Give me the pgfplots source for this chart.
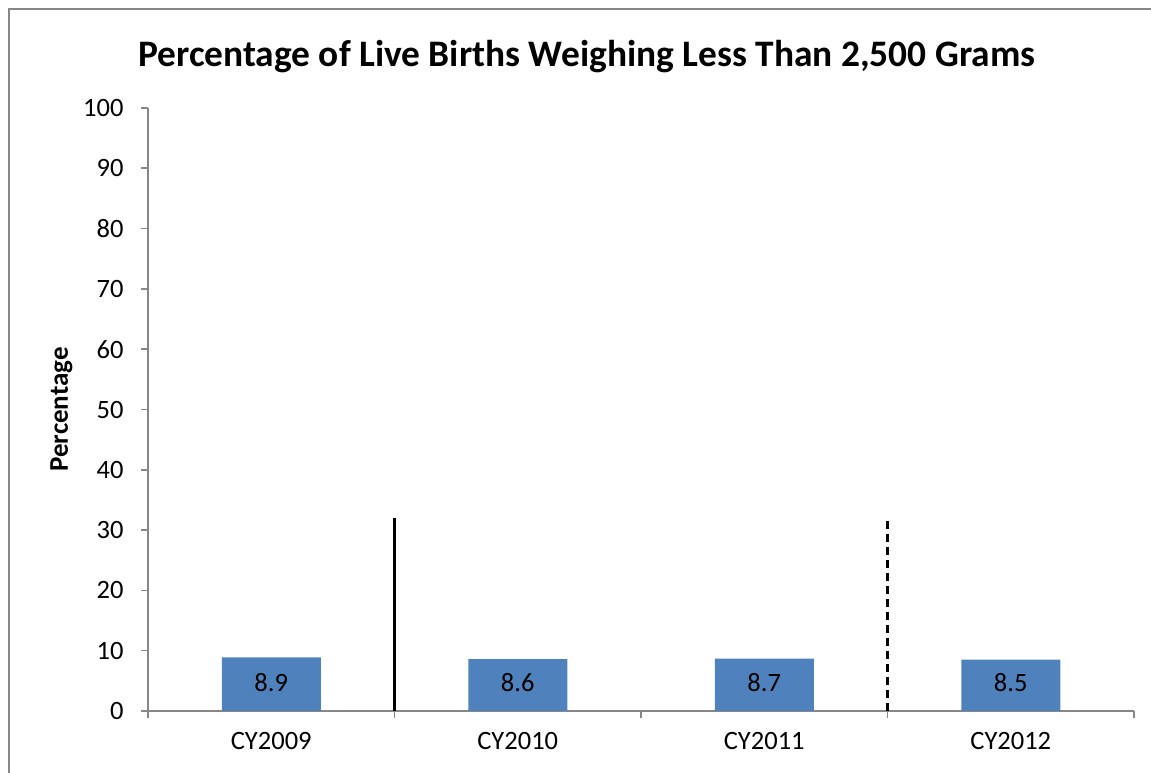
\documentclass[border=0pt]{standalone}
\usepackage{fontspec}
\setmainfont{Carlito}
\usepackage{pgfplots}
\pgfplotsset{compat=1.18}
\definecolor{barblue}{HTML}{4F81BD}
\definecolor{axgray}{HTML}{878787}
\begin{document}
\begin{tikzpicture}[x=1pt,y=1pt]
\path[use as bounding box] (0,0) rectangle (1151,773);
\draw[axgray, line width=1.6pt] (9,-20) rectangle (1180,764);
\begin{axis}[
  at={(148pt,62pt)}, anchor=south west,
  scale only axis, width=986pt, height=603pt,
  xmin=-0.5, xmax=3.5, ymin=0, ymax=100,
  axis x line=bottom, axis y line=left,
  axis line style={axgray, line width=1.6pt, -},
  xtick={-0.5,0.5,1.5,2.5,3.5},
  x tick label as interval,
  xticklabels={CY2009,CY2010,CY2011,CY2012},
  ytick={0,10,...,100},
  tick align=outside, major tick length=7pt,
  tick style={axgray, line width=1.6pt},
  /pgf/number format/assume math mode=true,
  tick label style={font=\fontsize{26.5}{31}\selectfont, black},
  yticklabel style={xshift=-14pt},
  xticklabel style={yshift=-11pt},
  title={Percentage of Live Births Weighing Less Than 2,500 Grams},
  title style={font=\bfseries\fontsize{37.4}{44}\selectfont, at={(axis description cs:0.445,1.075)}, anchor=center},
  ylabel={Percentage},
  ylabel style={font=\bfseries\fontsize{27}{31}\selectfont, at={(axis description cs:-0.0877,0.5)}, anchor=center},
]
\addplot[ybar, fill=barblue, draw=none, bar width=99pt,
  visualization depends on={y \as \rawy},
  nodes near coords={\pgfmathprintnumber[fixed,precision=1,fixed zerofill]{\pgfplotspointmeta}},
  nodes near coords style={anchor=center, yshift={28.5pt-6.03pt*\rawy}, font=\fontsize{26.5}{31}\selectfont, black}]
  coordinates {(0,8.9) (1,8.6) (2,8.7) (3,8.5)};
\addplot[black, line width=2.2pt] coordinates {(0.5,0) (0.5,32)};
\addplot[black, line width=2.2pt, dash pattern=on 8pt off 5pt] coordinates {(2.5,0) (2.5,32)};
\end{axis}
\end{tikzpicture}
\end{document}
